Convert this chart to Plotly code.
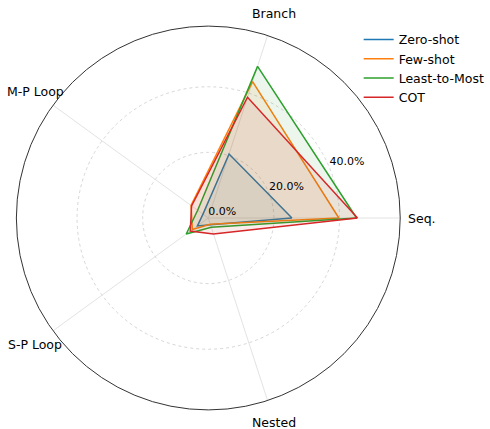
import math
import plotly.graph_objects as go

categories = ["Seq.", "Branch", "M-P Loop", "S-P Loop", "Nested"]
zero_shot = [25.5, 20.5, 2.0, 4.1, 2.2]
few_shot = [39.8, 43.7, 6.5, 6.0, 2.0]
least_to_most = [45.2, 48.6, 4.0, 8.3, 3.0]
cot = [45.5, 38.7, 6.3, 6.8, 5.1]
series_names = ["Zero-shot", "Few-shot", "Least-to-Most", "COT"]
series_values = [zero_shot, few_shot, least_to_most, cot]
colors = ["#1f77b4", "#ff7f0e", "#2ca02c", "#d62728"]
fills = ["rgba(31,119,180,0.09)", "rgba(255,127,14,0.09)", "rgba(44,160,44,0.09)", "rgba(214,39,40,0.09)"]
radial_tickvals = [0, 20, 40]
radial_ticktext = ["0.0%", "20.0%", "40.0%"]
r_max = 58.5
radial_label_angle = 22.5

W, H = 490, 429
cx_px, cy_px, rad_px = 210.0, 218.0, 193.5
label_rad_px = 215.5
domain = dict(x=[(cx_px - rad_px) / W, (cx_px + rad_px) / W],
              y=[1 - (cy_px + rad_px) / H, 1 - (cy_px - rad_px) / H])

fig = go.Figure()
for name, vals, c, fc in zip(series_names, series_values, colors, fills):
    fig.add_trace(go.Scatterpolar(
        r=vals + vals[:1], theta=categories + categories[:1],
        mode="lines", fill="toself", fillcolor=fc,
        line=dict(color=c, width=1.5), showlegend=False, hoverinfo="skip"))
for name, c in zip(series_names, colors):
    fig.add_trace(go.Scatterpolar(
        r=[None], theta=[None], mode="lines", name=name,
        line=dict(color=c, width=1.5)))
# radial tick labels on an overlaid polar with a linear angular axis
fig.add_trace(go.Scatterpolar(
    r=radial_tickvals, theta=[radial_label_angle] * len(radial_tickvals),
    mode="text", text=radial_ticktext, textposition="top right",
    cliponaxis=False, textfont=dict(size=11, color="black"),
    showlegend=False, hoverinfo="skip", subplot="polar2"))

# category labels centred just beyond the outer circle
annotations = []
n = len(categories)
for i, cat in enumerate(categories):
    ang = math.radians(i * 360.0 / n)
    annotations.append(dict(
        x=(cx_px + label_rad_px * math.cos(ang)) / W,
        y=1 - (cy_px - label_rad_px * math.sin(ang)) / H,
        xref="paper", yref="paper", text=cat, showarrow=False,
        xanchor="center", yanchor="middle",
        font=dict(size=12.5, color="black")))

fig.update_layout(
    width=W, height=H,
    margin=dict(l=0, r=0, t=0, b=0),
    paper_bgcolor="white",
    font=dict(family="DejaVu Sans", size=12, color="black"),
    annotations=annotations,
    polar=dict(
        domain=domain,
        bgcolor="white",
        angularaxis=dict(
            type="category", categoryarray=categories,
            rotation=0, direction="counterclockwise",
            showline=True, linecolor="#333333", linewidth=1,
            gridcolor="#e3e3e3", gridwidth=1,
            ticks="", showticklabels=False,
        ),
        radialaxis=dict(
            range=[0, r_max],
            tickvals=radial_tickvals,
            showline=False, ticks="", showticklabels=False,
            gridcolor="#d6d6d6", griddash="dot", gridwidth=1,
        ),
    ),
    polar2=dict(
        domain=domain,
        bgcolor="rgba(0,0,0,0)",
        angularaxis=dict(
            type="linear", thetaunit="degrees", rotation=0,
            direction="counterclockwise", visible=False,
            showgrid=False, showline=False, ticks="", showticklabels=False,
        ),
        radialaxis=dict(
            range=[0, r_max], visible=False, showgrid=False,
            showline=False, ticks="", showticklabels=False,
        ),
    ),
    legend=dict(x=0.738, y=0.942, xanchor="left", yanchor="top",
                font=dict(size=12.5), bgcolor="rgba(0,0,0,0)",
                tracegroupgap=0, itemwidth=30),
)

fig.write_html("out.html", config={"displayModeBar": False},
               post_script="document.body.style.margin='0px';")
